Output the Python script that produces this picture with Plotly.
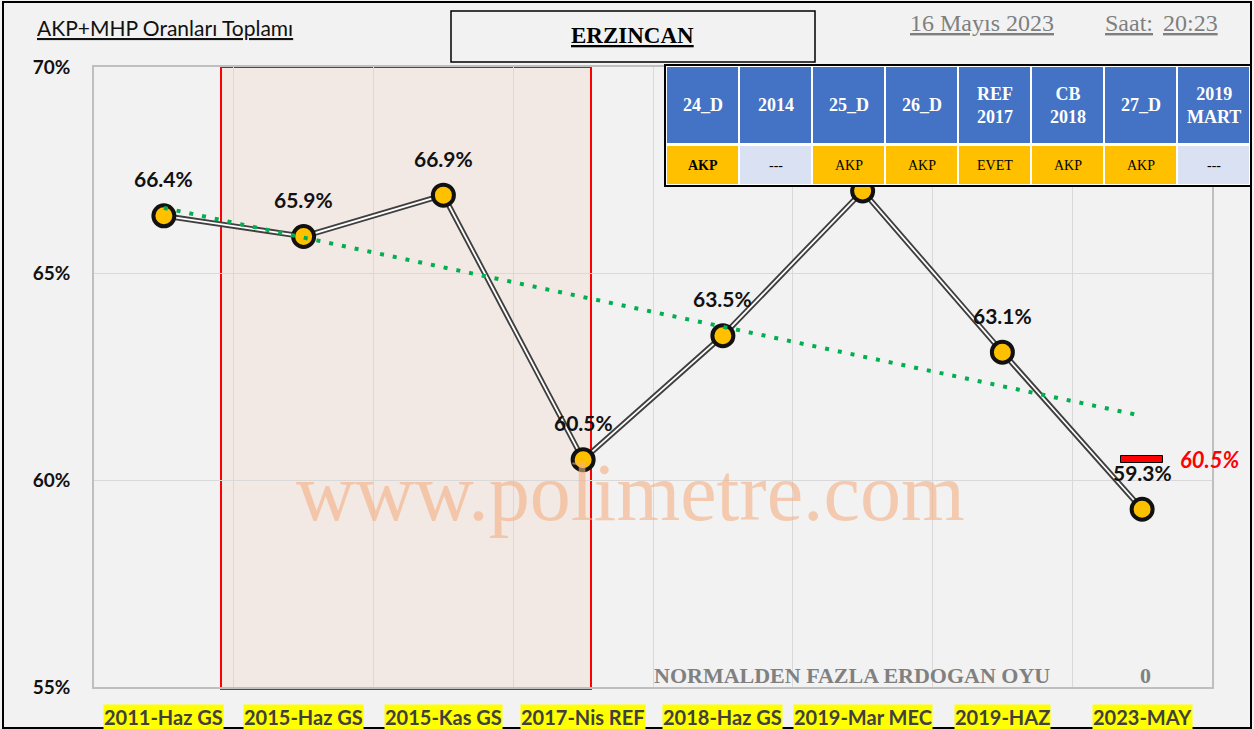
import numpy as np
import plotly.graph_objects as go

# ---------------- data ----------------
categories = ["2011-Haz GS", "2015-Haz GS", "2015-Kas GS", "2017-Nis REF",
              "2018-Haz GS", "2019-Mar MEC", "2019-HAZ", "2023-MAY"]
values = [66.4, 65.9, 66.9, 60.5, 63.5, 67.0, 63.1, 59.3]
label_hidden = [False, False, False, False, False, True, False, False]
expected_2023 = 60.5
y_ticks = [55, 60, 65, 70]

table_headers = ["24_D", "2014", "25_D", "26_D", "REF<br>2017", "CB<br>2018", "27_D", "2019<br>MART"]
table_values = ["AKP", "---", "AKP", "AKP", "EVET", "AKP", "AKP", "---"]

title_text = "ERZINCAN"
subtitle_text = "AKP+MHP Oranları Toplamı"
date_text = "16 Mayıs 2023"
time_label = "Saat:"
time_text = "20:23"
footer_text = "NORMALDEN FAZLA ERDOGAN OYU"
footer_value = "0"
watermark = "www.polimetre.com"

# ---------------- geometry helpers ----------------
W, H = 1254, 729
PL, PR, PT, PB = 94, 1212, 67, 687


def fx(px):
    return (px - PL) / (PR - PL)


def fy(py):
    return (PB - py) / (PB - PT)


SANS = "Lato, Carlito, 'Open Sans', sans-serif"
SERIF = "'Liberation Serif', 'DejaVu Serif', serif"

xi = np.arange(len(values))
coef = np.polyfit(xi, values, 1)
trend = np.polyval(coef, xi)

fig = go.Figure()

# double line: dark outer + light inner
fig.add_trace(go.Scatter(x=categories, y=values, mode="lines",
                         line=dict(color="#3F3F3F", width=5.5),
                         hoverinfo="skip", showlegend=False))
fig.add_trace(go.Scatter(x=categories, y=values, mode="lines",
                         line=dict(color="#FFFFFF", width=1.8),
                         hoverinfo="skip", showlegend=False))
# expected marker (red dash) for 2023
fig.add_trace(go.Bar(
    x=[categories[-1]], y=[0.16], base=[expected_2023 - 0.08], width=0.3,
    marker=dict(color="#FF0000", line=dict(color="#000000", width=1)),
    hoverinfo="skip", showlegend=False))
# markers
fig.add_trace(go.Scatter(x=categories, y=values, mode="markers",
                         marker=dict(size=21, color="#FFC000",
                                     line=dict(color="#111111", width=4)),
                         showlegend=False))
# trendline
fig.add_trace(go.Scatter(x=categories, y=trend, mode="lines",
                         line=dict(color="#00B050", width=4, dash="4px,9px"),
                         hoverinfo="skip", showlegend=False))

shapes = []
annotations = []


def note(x, y, text, font, xanchor="center", yanchor="middle", **kw):
    d = dict(xref="paper", yref="paper", x=x, y=y, text=text, showarrow=False,
             xanchor=xanchor, yanchor=yanchor, font=font)
    d.update(kw)
    annotations.append(d)


# shaded red box
shapes.append(dict(type="rect", xref="paper", yref="paper",
                   x0=fx(221), x1=fx(591), y0=fy(689), y1=fy(67),
                   fillcolor="#F2E8E4", line=dict(color="#FF0000", width=2),
                   layer="below"))

# outer frame
shapes.append(dict(type="rect", xref="paper", yref="paper",
                   x0=fx(3), x1=fx(1251), y0=fy(728), y1=fy(2),
                   line=dict(color="#000000", width=2), layer="above"))

# title box
shapes.append(dict(type="rect", xref="paper", yref="paper",
                   x0=fx(451), x1=fx(815), y0=fy(62), y1=fy(11),
                   fillcolor="#F2F2F2", line=dict(color="#000000", width=1.5),
                   layer="above"))

# table
TL, TR, TT, TM, TB = 666, 1250, 66, 144, 185
ncol = len(table_headers)
cw = (TR - TL) / ncol
shapes.append(dict(type="rect", xref="paper", yref="paper",
                   x0=fx(TL - 1), x1=fx(TR + 1), y0=fy(TB + 1), y1=fy(TT - 1),
                   fillcolor="#FFFFFF", line=dict(color="#000000", width=2),
                   layer="above"))
for i, (h, v) in enumerate(zip(table_headers, table_values)):
    x0 = TL + i * cw + 1
    x1 = TL + (i + 1) * cw - 1
    shapes.append(dict(type="rect", xref="paper", yref="paper",
                       x0=fx(x0), x1=fx(x1), y0=fy(TM - 1), y1=fy(TT + 1),
                       fillcolor="#4472C4", line=dict(width=0), layer="above"))
    fill = "#D9E1F2" if v == "---" else "#FFC000"
    shapes.append(dict(type="rect", xref="paper", yref="paper",
                       x0=fx(x0), x1=fx(x1), y0=fy(TB - 1), y1=fy(TM + 2),
                       fillcolor=fill, line=dict(width=0), layer="above"))
    xc = fx((x0 + x1) / 2)
    note(xc, fy((TT + TM) / 2), f"<b>{h}</b>",
         dict(family=SERIF, size=18, color="#FFFFFF"))
    vt = f"<b>{v}</b>" if i == 0 else v
    note(xc, fy((TM + TB) / 2 + 1), vt, dict(family=SERIF, size=14, color="#000000"))

# data labels
for c, v, hid in zip(categories, values, label_hidden):
    if hid:
        continue
    annotations.append(dict(x=c, y=v, xref="x", yref="y", yshift=37,
                            xanchor="center", yanchor="middle",
                            text=f"<b>{v:.1f}%</b>", showarrow=False,
                            font=dict(family=SANS, size=21, color="#111111")))

# expected value label
annotations.append(dict(x=categories[-1], y=expected_2023, xref="x", yref="y",
                        xanchor="left", yanchor="middle", xshift=36, yshift=0,
                        text=f"<b><i>{expected_2023:.1f}%</i></b>", showarrow=False,
                        font=dict(family=SANS, size=22, color="#FF0000")))

# x tick labels with yellow highlight
for c in categories:
    annotations.append(dict(x=c, y=fy(717), xref="x", yref="paper",
                            xanchor="center", yanchor="middle",
                            text=f"<b>{c}</b>", showarrow=False,
                            bgcolor="#FFFF00", borderpad=0,
                            font=dict(family=SANS, size=20, color="#404040")))

# texts
note(fx(35), fy(28), f"<u>{subtitle_text}</u>",
     dict(family=SANS, size=21, color="#111111"), xanchor="left")
note(fx(632), fy(35), f"<b><u>{title_text}</u></b>",
     dict(family=SERIF, size=23, color="#000000"))
note(fx(982), fy(23), f"<u>{date_text}</u>", dict(family=SERIF, size=24, color="#7F7F7F"))
note(fx(1129), fy(23), f"<u>{time_label}</u>", dict(family=SERIF, size=24, color="#7F7F7F"))
note(fx(1190), fy(23), f"<u>{time_text}</u>", dict(family=SERIF, size=24, color="#7F7F7F"))
note(fx(852), fy(675), f"<b>{footer_text}</b>", dict(family=SERIF, size=22, color="#808080"))
note(fx(1145), fy(675), f"<b>{footer_value}</b>", dict(family=SERIF, size=22, color="#808080"))
note(fx(630), fy(492), watermark, dict(family=SERIF, size=82, color="#F4B183"), opacity=0.6)

fig.update_layout(
    width=W, height=H, autosize=False,
    margin=dict(l=PL, r=W - PR, t=PT, b=H - PB, pad=0),
    paper_bgcolor="#F2F2F2", plot_bgcolor="#F2F2F2",
    showlegend=False, shapes=shapes, annotations=annotations,
    bargap=0,
    xaxis=dict(type="category", categoryorder="array", categoryarray=categories,
               range=[-0.5, len(categories) - 0.5],
               showticklabels=False, tickson="boundaries", ticks="",
               showgrid=True, gridcolor="#D9D9D9", gridwidth=1,
               showline=True, linecolor="#BFBFBF", linewidth=1.5, mirror=True,
               zeroline=False, fixedrange=True),
    yaxis=dict(range=[55, 70], tickvals=y_ticks, ticktext=[f"<b>{t}%</b>" for t in y_ticks],
               tickfont=dict(family=SANS, size=19, color="#111111"),
               ticks="", ticklabelstandoff=18,
               showgrid=True, gridcolor="#D9D9D9", gridwidth=1,
               showline=True, linecolor="#BFBFBF", linewidth=1.5, mirror=True,
               zeroline=False, fixedrange=True),
)

fig.write_html("out.html", config={"displayModeBar": False},
               post_script="document.body.style.margin='0';document.body.style.overflow='hidden';")
